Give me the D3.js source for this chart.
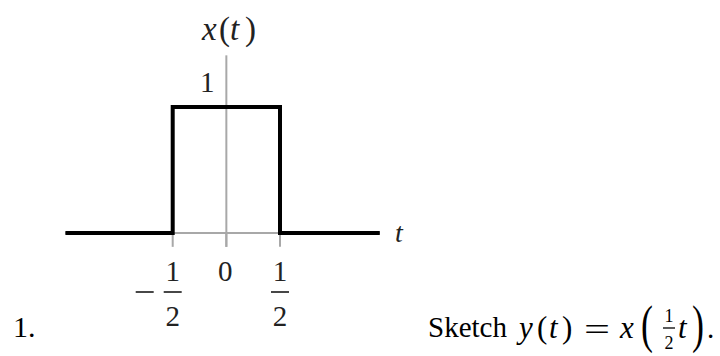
<!DOCTYPE html>
<html><head><meta charset="utf-8">
<script src="https://cdn.jsdelivr.net/npm/d3@7/dist/d3.min.js"></script>
<style>html,body{margin:0;padding:0;background:#fff;}svg{display:block;}</style>
</head><body>
<script>
// Data
const signalT = [-1.5, -0.5, -0.5, 0.5, 0.5, 1.43];
const signalX = [0, 0, 1, 1, 0, 0];
const xTickValues = [-0.5, 0, 0.5];
const xTickLabels = [{sign:"−", num:"1", den:"2"}, {whole:"0"}, {sign:"", num:"1", den:"2"}];
const yTickValues = [1];
const yTickLabels = ["1"];
const axisYTop = 1.41, axisYBottom = -0.11;

const W = 720, H = 356;
const svg = d3.select("body").append("svg").attr("width", W).attr("height", H);
const x = d3.scaleLinear().domain([-0.5, 0.5]).range([172.7, 280]);
const y = d3.scaleLinear().domain([0, 1]).range([233, 107]);
const serif = "'Liberation Serif','Times New Roman',serif";
const grey = "#a8a8a8";

// axes (grey)
const g = svg.append("g");
g.append("line").attr("x1", x(d3.min(signalT))).attr("x2", x(d3.max(signalT)))
  .attr("y1", y(0)).attr("y2", y(0)).attr("stroke", grey).attr("stroke-width", 2);
g.append("line").attr("x1", x(0)).attr("x2", x(0))
  .attr("y1", y(axisYTop)).attr("y2", y(axisYBottom)).attr("stroke", grey).attr("stroke-width", 2);
g.selectAll(".tk").data(xTickValues).join("line")
  .attr("x1", d => x(d)).attr("x2", d => x(d))
  .attr("y1", y(0)).attr("y2", y(axisYBottom)).attr("stroke", grey).attr("stroke-width", 2);

// signal
const pts = signalT.map((t, i) => [t, signalX[i]]);
svg.append("path").datum(pts)
  .attr("d", d3.line().x(d => x(d[0])).y(d => y(d[1])))
  .attr("fill", "none").attr("stroke", "#000").attr("stroke-width", 4)
  .attr("stroke-linejoin", "miter");

// x tick labels
const lab = svg.append("g").attr("font-family", serif).attr("fill", "#222");
xTickValues.forEach((v, i) => {
  const L = xTickLabels[i], cx = x(v);
  if (L.whole) {
    lab.append("text").attr("x", cx - 1).attr("y", 281).attr("text-anchor", "middle")
      .attr("font-size", 29).text(L.whole);
  } else {
    lab.append("text").attr("x", cx).attr("y", 281).attr("text-anchor", "middle")
      .attr("font-size", 29).text(L.num);
    lab.append("line").attr("x1", cx - 9).attr("x2", cx + 9).attr("y1", 292).attr("y2", 292)
      .attr("stroke", "#333").attr("stroke-width", 1.8);
    lab.append("text").attr("x", cx).attr("y", 326).attr("text-anchor", "middle")
      .attr("font-size", 29).text(L.den);
    if (L.sign) {
      lab.append("line").attr("x1", cx - 37).attr("x2", cx - 19).attr("y1", 292).attr("y2", 292)
        .attr("stroke", "#333").attr("stroke-width", 1.8);
    }
  }
});
// y tick labels
yTickValues.forEach((v, i) => {
  lab.append("text").attr("x", x(0) - 19).attr("y", y(v) - 15).attr("text-anchor", "middle")
    .attr("font-size", 29).text(yTickLabels[i]);
});
// axis title x(t)
const tt = lab.append("g").attr("font-size", 33);
tt.append("text").attr("x", 202).attr("y", 40).attr("font-style", "italic").text("x");
tt.append("text").attr("x", 219).attr("y", 40).text("(");
tt.append("text").attr("x", 230).attr("y", 40).attr("font-style", "italic").text("t");
tt.append("text").attr("x", 245).attr("y", 40).text(")");
lab.append("text").attr("x", 395).attr("y", 242).attr("text-anchor", "start")
  .attr("font-size", 28).attr("font-style", "italic").text("t");

// problem text
const tx = svg.append("g").attr("font-family", serif).attr("fill", "#000");
tx.append("text").attr("x", 13).attr("y", 337).attr("font-size", 30).text("1.");
tx.append("text").attr("x", 428).attr("y", 337).attr("font-size", 29).text("Sketch");
tx.append("text").attr("x", 519).attr("y", 338).attr("font-size", 31).attr("font-style", "italic").text("y");
tx.append("text").attr("x", 537).attr("y", 338).attr("font-size", 31).text("(");
tx.append("text").attr("x", 549).attr("y", 338).attr("font-size", 31).attr("font-style", "italic").text("t");
tx.append("text").attr("x", 562).attr("y", 338).attr("font-size", 31).text(")");
tx.append("text").attr("x", 584).attr("y", 340).attr("font-size", 31)
  .attr("textLength", 26).attr("lengthAdjust", "spacingAndGlyphs").text("=");
tx.append("text").attr("x", 620).attr("y", 338).attr("font-size", 31).attr("font-style", "italic").text("x");
tx.append("text").attr("transform", "translate(641,342) scale(1,1.45)").attr("font-size", 36).text("(");
tx.append("text").attr("x", 669).attr("y", 322).attr("font-size", 18).attr("text-anchor", "middle").text("1");
tx.append("line").attr("x1", 663).attr("x2", 675).attr("y1", 328).attr("y2", 328).attr("stroke", "#000").attr("stroke-width", 1.3);
tx.append("text").attr("x", 669).attr("y", 349).attr("font-size", 18).attr("text-anchor", "middle").text("2");
tx.append("text").attr("x", 678).attr("y", 338).attr("font-size", 31).attr("font-style", "italic").text("t");
tx.append("text").attr("transform", "translate(692,342) scale(1,1.45)").attr("font-size", 36).text(")");
tx.append("text").attr("x", 707).attr("y", 338).attr("font-size", 29).text(".");
</script>
</body></html>
